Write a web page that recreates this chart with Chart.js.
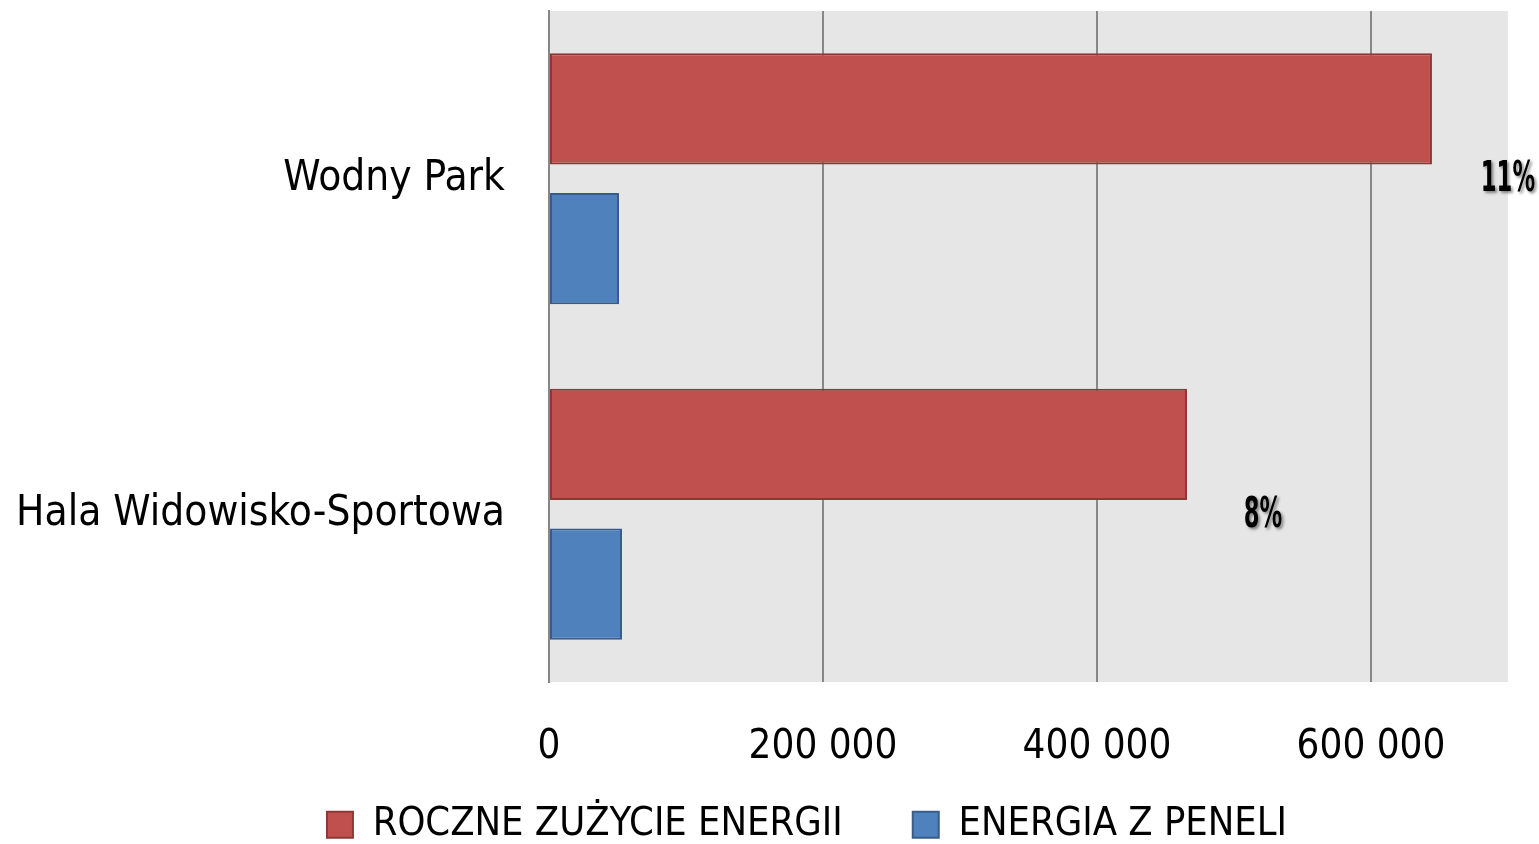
<!DOCTYPE html>
<html>
<head>
<meta charset="utf-8">
<script src="https://cdn.jsdelivr.net/npm/chart.js@4"></script>
<style>
  html, body { margin: 0; padding: 0; background: #fff; }
  #wrap { width: 1539px; height: 844px; }
</style>
</head>
<body>
<div id="wrap"><canvas id="barChart"></canvas></div>
<script>
// data
const places = ["Wodny Park", "Hala Widowisko-Sportowa"];
const yearlyUse = [644500, 465700];
const panelEnergy = [51100, 53300];
const shareLabels = ["11%", "8%"];
const xTicks = [0, 200000, 400000, 600000];

const FONT = "'DejaVu Sans Condensed', 'Liberation Sans Narrow', sans-serif";

function fmt(v) {
  return String(v).replace(/\B(?=(\d{3})+(?!\d))/g, " ");
}

// grey plot background
const plotBg = {
  id: "plotBg",
  beforeDraw(chart) {
    const a = chart.chartArea, ctx = chart.ctx;
    ctx.save();
    ctx.fillStyle = "#e6e6e6";
    ctx.fillRect(a.left, a.top, a.right - a.left, a.bottom - a.top);
    ctx.restore();
  }
};

// move the legend row where the original has it
// (only the top moves: the legend clips to its own box)
const legendShift = {
  id: "legendShift",
  afterLayout(chart) {
    const lg = chart.legend;
    if (!lg) return;
    lg.left += 53;
    lg.right += 53;
    lg.top -= 37;
  }
};

// percentage labels next to the red bars
const shareText = {
  id: "shareText",
  afterDatasetsDraw(chart) {
    const ctx = chart.ctx;
    const meta = chart.getDatasetMeta(0);
    meta.data.forEach((bar, i) => {
      const bottom = bar.y + bar.height / 2;
      ctx.save();
      ctx.translate(bar.x + 76, bottom + 16);
      ctx.scale(0.6, 1);
      ctx.font = "bold 42px " + FONT;
      ctx.fillStyle = "#000";
      ctx.textAlign = "center";
      ctx.textBaseline = "middle";
      ctx.shadowColor = "rgba(0,0,0,0.45)";
      ctx.shadowOffsetX = 2;
      ctx.shadowOffsetY = 2;
      ctx.shadowBlur = 3;
      ctx.fillText(shareLabels[i], 0, 0);
      ctx.restore();
    });
  }
};

new Chart(document.getElementById("barChart"), {
  type: "bar",
  data: {
    labels: places,
    datasets: [{
      label: "ROCZNE ZUŻYCIE ENERGII",
      data: yearlyUse,
      backgroundColor: "#c0504d",
      borderColor: "#8c3836",
      borderWidth: 2,
      borderSkipped: false
    }, {
      label: "ENERGIA Z PENELI",
      data: panelEnergy,
      backgroundColor: "#4f81bd",
      borderColor: "#385d8a",
      borderWidth: 2,
      borderSkipped: false
    }]
  },
  options: {
    indexAxis: "y",
    responsive: true,
    maintainAspectRatio: false,
    animation: false,
    datasets: { bar: { categoryPercentage: 0.833, barPercentage: 0.796 } },
    layout: { padding: { top: 11, right: 31, left: 0, bottom: 0 } },
    scales: {
      x: {
        min: 0,
        max: 700000,
        afterBuildTicks(scale) { scale.ticks = xTicks.map(v => ({ value: v })); },
        afterFit(scale) {
          scale.height = 90;
          scale.paddingLeft = 0;
          scale.paddingRight = 0;
        },
        grid: { color: "#878787", lineWidth: 2, drawTicks: false },
        border: { display: false },
        ticks: {
          padding: 42,
          color: "#000",
          font: { family: FONT, size: 40 },
          callback: v => fmt(v)
        }
      },
      y: {
        afterFit(scale) {
          scale.width = 549;
          scale.paddingTop = 0;
          scale.paddingBottom = 0;
        },
        grid: { display: false, drawTicks: false },
        border: { display: true, color: "#878787", width: 2 },
        ticks: {
          padding: 44,
          color: "#000",
          font: { family: FONT, size: 42 }
        }
      }
    },
    plugins: {
      legend: {
        position: "bottom",
        maxHeight: 72,
        labels: {
          color: "#000",
          boxWidth: 26,
          boxHeight: 26,
          padding: 70,
          font: { family: FONT, size: 39.5 }
        }
      },
      tooltip: { enabled: false }
    }
  },
  plugins: [plotBg, legendShift, shareText]
});
</script>
</body>
</html>
